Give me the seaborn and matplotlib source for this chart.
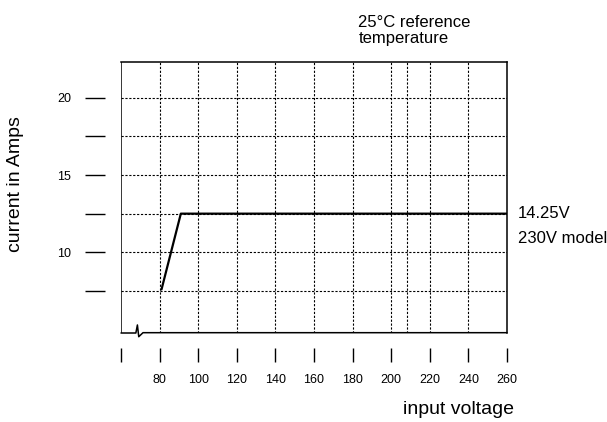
import matplotlib

matplotlib.use("Agg")

import matplotlib.pyplot as plt
import pandas as pd
import seaborn as sns

# data
voltage = [81, 91, 260]
current = [7.6, 12.5, 12.5]

x_ticks = [60, 80, 100, 120, 140, 160, 180, 200, 220, 240, 260]
x_tick_labels = ["", "80", "100", "120", "140", "160", "180", "200", "220", "240", "260"]
y_ticks = [7.5, 10, 12.5, 15, 17.5, 20]
y_tick_labels = ["", "10", "", "15", "", "20"]

grid_x = [80, 100, 120, 140, 160, 180, 200, 208, 220, 240]
grid_y = [7.5, 10, 12.5, 15, 17.5, 20]

# axis-break squiggle along the bottom edge
break_x = [60, 67.7, 68.5, 69.2, 71.4, 260]
break_y = [4.78, 4.78, 5.3, 4.54, 4.8, 4.8]

X_LIM = (60, 260)
Y_LIM = (4.78, 22.33)

W, H = 607, 422


def main() -> None:
    sns.set_style("white")
    plt.rcParams["font.family"] = ["Liberation Sans", "DejaVu Sans"]
    plt.rcParams["text.color"] = "black"
    plt.rcParams["axes.labelcolor"] = "black"
    plt.rcParams["xtick.color"] = "black"
    plt.rcParams["ytick.color"] = "black"

    fig = plt.figure(figsize=(W / 100, H / 100), dpi=100)
    ax = fig.add_axes([121 / W, 1 - 333 / H, (507 - 121) / W, (333 - 61.7) / H])

    for gx in grid_x:
        ax.axvline(gx, color="black", lw=0.8, ls=(0, (2, 1.5)), zorder=1)
    for gy in grid_y:
        ax.axhline(gy, color="black", lw=0.8, ls=(0, (2, 1.5)), zorder=1)

    df = pd.DataFrame({"voltage": voltage, "current": current})
    sns.lineplot(data=df, x="voltage", y="current", color="black", lw=1.6, ax=ax, zorder=3)

    # frame: left edge, bottom edge with break mark, top/right spines
    ax.axvline(X_LIM[0], color="black", lw=1.1, zorder=4)
    ax.plot(break_x, break_y, color="black", lw=1.1, clip_on=False, zorder=4)

    ax.set_xlim(*X_LIM)
    ax.set_ylim(*Y_LIM)

    ax.spines["left"].set_position(("outward", 11.5))
    ax.spines["bottom"].set_position(("outward", 10.8))
    ax.spines["left"].set_visible(False)
    ax.spines["bottom"].set_visible(False)
    for side in ["top", "right"]:
        ax.spines[side].set_color("black")
        ax.spines[side].set_linewidth(1.1)

    ax.set_xticks(x_ticks)
    ax.set_xticklabels(x_tick_labels)
    ax.set_yticks(y_ticks)
    ax.set_yticklabels(y_tick_labels)
    ax.tick_params(axis="x", direction="out", length=10, width=1.0, color="black", pad=9, labelsize=9, bottom=True)
    ax.tick_params(axis="y", direction="out", length=14.4, width=1.0, color="black", pad=10, labelsize=9, left=True)

    ax.set_xlabel("input voltage", fontsize=14, va="baseline")
    ax.xaxis.set_label_coords((458.5 - 121) / 386, (333 - 414.3) / 271.3)
    ax.set_ylabel("current in Amps", fontsize=14, va="center")
    ax.yaxis.set_label_coords((15 - 121) / 386, (333 - 184) / 271.3)

    fig.text(358.3 / W, 1 - 26.7 / H, "25°C reference", fontsize=12, va="baseline")
    fig.text(358.3 / W, 1 - 43.5 / H, "temperature", fontsize=12, va="baseline")
    fig.text(518 / W, 1 - 218.3 / H, "14.25V", fontsize=12, va="baseline")
    fig.text(518 / W, 1 - 243.3 / H, "230V model", fontsize=12, va="baseline")

    fig.savefig("out.png", dpi=100)
    plt.close(fig)


if __name__ == "__main__":
    main()
